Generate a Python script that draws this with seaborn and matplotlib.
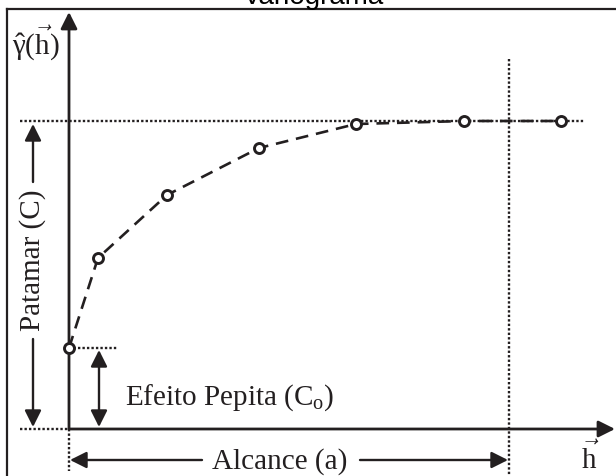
import matplotlib
matplotlib.use("Agg")
import matplotlib.pyplot as plt
import pandas as pd
import seaborn as sns

# ---- data ----
lag_h = [0, 29, 98, 190, 287, 395, 492]
gamma_h = [81, 171, 234, 281, 305, 308, 308]
nugget = 81
sill = 308
range_a = 440

title = "Variograma"
label_sill = "Patamar (C)"
label_nugget = r"Efeito Pepita (C$_{\mathrm{o}}$)"
label_range = "Alcance (a)"
label_y = r"$\hat{\mathrm{\gamma}}(\vec{\mathrm{h}})$"
label_x = r"$\vec{\mathrm{h}}$"

sns.set_style("white")
plt.rcParams["font.family"] = ["Liberation Serif", "DejaVu Serif"]
plt.rcParams["mathtext.fontset"] = "custom"
plt.rcParams["mathtext.rm"] = "Liberation Serif"
plt.rcParams["mathtext.it"] = "Liberation Serif:italic"
plt.rcParams["mathtext.bf"] = "Liberation Serif:bold"

INK = "#231f20"
W, H = 616, 477
fig = plt.figure(figsize=(W / 100, H / 100), dpi=100)
ax = fig.add_axes([7 / W, -3 / H, 613 / W, 470 / H])

df = pd.DataFrame({"h": lag_h, "gamma": gamma_h})
sns.lineplot(data=df, x="h", y="gamma", ax=ax, color=INK, lw=1.9,
             linestyle=(0, (4.8, 3.0)), marker="o", markersize=7.2,
             markerfacecolor="white", markeredgecolor=INK,
             markeredgewidth=2.1, zorder=5)

ax.set_xlim(-62, 551)
ax.set_ylim(-50, 420)
ax.set_xticks([])
ax.set_yticks([])
ax.set_xlabel("")
ax.set_ylabel("")
for s in ["left", "top"]:
    ax.spines[s].set_linewidth(1.6)
    ax.spines[s].set_color(INK)
for s in ["right", "bottom"]:
    ax.spines[s].set_visible(False)

ax.set_title(title, family="Liberation Sans", fontsize=20, pad=1.5, color="black")

dot = dict(ls=(0, (1, 0.9)), lw=1.7, color=INK, zorder=2)
ax.plot([-49, 516], [sill, sill], **dot)
ax.plot([range_a, range_a], [370, -47], **dot)
ax.plot([0, 49], [nugget, nugget], **dot)
ax.plot([-49, 0], [0, 0], **dot)
ax.plot([0, 0], [0, -42], **dot)

head = "-|>,head_length=1.0,head_width=0.5"
dhead = "<|-|>,head_length=1.0,head_width=0.5"


def arrow(x0, y0, x1, y1, style=head, lw=1.9):
    ax.annotate("", xy=(x1, y1), xytext=(x0, y0),
                arrowprops=dict(arrowstyle=style, mutation_scale=10, lw=lw,
                                color=INK, shrinkA=0, shrinkB=0), zorder=3)


# main axes
arrow(0, 0, 0, 417, lw=2.0)
arrow(0, 0, 546, 0, lw=2.0)

# sill arrow with label
arrow(-36, 247, -36, sill - 3, lw=1.7)
arrow(-36, 90, -36, 2, lw=1.7)
ax.text(-36, 170, label_sill, rotation=90, ha="center", va="center",
        fontsize=21, color=INK)

# nugget arrow
arrow(30, 2, 30, nugget - 2, style=dhead, lw=1.7)
ax.text(56, 25, label_nugget, ha="left", va="baseline", fontsize=21, color=INK)

# range arrow
arrow(133, -31, 1, -31, lw=1.7)
arrow(291, -31, range_a - 1, -31, lw=1.7)
ax.text(211, -32, label_range, ha="center", va="center", fontsize=21, color=INK)

ax.text(521, -28, label_x, ha="center", va="center", fontsize=21, color=INK)
ax.text(-57, 375, label_y, ha="left", va="baseline", fontsize=21, color=INK)

fig.savefig("out.png", dpi=100)
